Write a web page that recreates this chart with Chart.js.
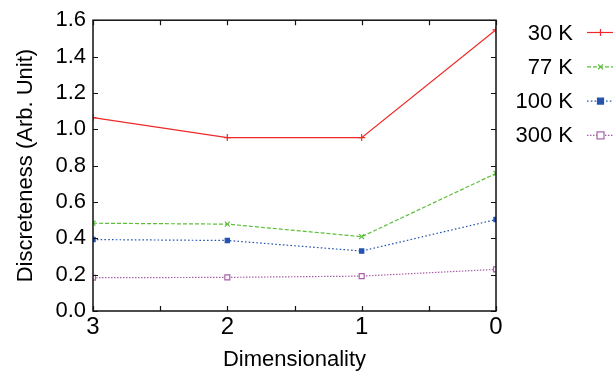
<!DOCTYPE html>
<html>
<head>
<meta charset="utf-8">
<script src="https://cdn.jsdelivr.net/npm/chart.js@4/dist/chart.umd.min.js"></script>
<style>
html,body{margin:0;padding:0;background:#fff;}
canvas{display:block;}
</style>
</head>
<body>
<canvas id="c" width="613" height="374"></canvas>
<script>
// ---- data ----
const dimensionality = [3, 2, 1, 0];
const seriesLabels = ['30 K', '77 K', '100 K', '300 K'];
const k30  = [1.064, 0.954, 0.954, 1.547];
const k77  = [0.483, 0.478, 0.409, 0.757];
const k100 = [0.393, 0.388, 0.330, 0.503];
const k300 = [0.183, 0.185, 0.192, 0.229];
const yTickLabels = ['0.0','0.2','0.4','0.6','0.8','1.0','1.2','1.4','1.6'];
const xTickLabels = ['0','1','2','3'];

const FONT = "'Liberation Sans', Arial, Helvetica, sans-serif";

function pts(vals){ return dimensionality.map((d,i)=>({x:d, y:vals[i]})); }

const styles = [
  {color:'#f02828', dash:[], point:'cross', radius:3.5, bg:'#f02828'},
  {color:'#5cbf3a', dash:[4,2], point:'crossRot', radius:3.5, bg:'#5cbf3a'},
  {color:'#2454b0', dash:[1.6,2.2], point:'rect', radius:3, bg:'#2454b0'},
  {color:'#a860a8', dash:[1.5,1.5], point:'rect', radius:3.5, bg:'#ffffff'}
];
const seriesValues = [k30, k77, k100, k300];

const datasets = seriesValues.map((v,i)=>({
  label: seriesLabels[i],
  data: pts(v),
  borderColor: styles[i].color,
  backgroundColor: styles[i].bg,
  borderWidth: 1.2,
  borderDash: styles[i].dash,
  pointStyle: styles[i].point,
  pointRadius: styles[i].radius,
  pointBorderColor: styles[i].color,
  pointBackgroundColor: styles[i].bg,
  pointBorderWidth: 1.2,
  tension: 0,
  fill: false
}));

const framePlugin = {
  id: 'frame',
  afterDatasetsDraw(chart){
    const ctx = chart.ctx, a = chart.chartArea;
    const xs = chart.scales.x, ys = chart.scales.y;
    ctx.save();
    ctx.strokeStyle = '#111';
    ctx.lineWidth = 1.5;
    ctx.strokeRect(a.left, a.top, a.right - a.left, a.bottom - a.top);
    ctx.lineWidth = 1.2;
    ctx.beginPath();
    for (let v = 0; v <= 3.0001; v += 0.5) {
      const px = Math.round(xs.getPixelForValue(v)) + 0.5;
      const len = 5;
      ctx.moveTo(px, a.bottom); ctx.lineTo(px, a.bottom - len);
      ctx.moveTo(px, a.top); ctx.lineTo(px, a.top + len);
    }
    for (let v = 0; v <= 1.6001; v += 0.2) {
      const py = Math.round(ys.getPixelForValue(v)) + 0.5;
      ctx.moveTo(a.left, py); ctx.lineTo(a.left + 5, py);
      ctx.moveTo(a.right, py); ctx.lineTo(a.right - 5, py);
    }
    ctx.stroke();
    ctx.restore();
  },
  afterDraw(chart){
    const ctx = chart.ctx;
    ctx.save();
    const textRight = 573, lineL = 587, lineR = 615, markX = 600.5;
    chart.data.datasets.forEach((ds, i) => {
      const y = 32.5 + i * 34.3;
      ctx.fillStyle = '#000';
      ctx.font = '22px ' + FONT;
      ctx.textAlign = 'right';
      ctx.textBaseline = 'middle';
      ctx.fillText(ds.label, textRight, y + 1);
      ctx.strokeStyle = ds.borderColor;
      ctx.lineWidth = 1.2;
      ctx.setLineDash(ds.borderDash);
      ctx.beginPath();
      ctx.moveTo(lineL, y); ctx.lineTo(lineR, y);
      ctx.stroke();
      ctx.setLineDash([]);
      ctx.fillStyle = ds.pointBackgroundColor;
      ctx.strokeStyle = ds.pointBorderColor;
      const r = ds.pointRadius;
      if (ds.pointStyle === 'rect') {
        ctx.fillRect(markX - r, y - r, 2*r, 2*r);
        ctx.strokeRect(markX - r, y - r, 2*r, 2*r);
      } else {
        Chart.helpers.drawPoint(ctx, {
          pointStyle: ds.pointStyle, radius: r, rotation: 0, borderWidth: 1.2
        }, markX, y);
      }
    });
    ctx.restore();
  }
};

new Chart(document.getElementById('c'), {
  type: 'line',
  data: { datasets },
  options: {
    responsive: false,
    animation: false,
    layout: { padding: { top: 16, right: 117, left: 0, bottom: 0 } },
    plugins: { legend: { display: false }, tooltip: { enabled: false } },
    scales: {
      x: {
        type: 'linear',
        reverse: true,
        min: 0, max: 3,
        grid: { display: false, drawTicks: false },
        border: { display: false },
        ticks: {
          stepSize: 1,
          color: '#000',
          padding: 2,
          font: { family: FONT, size: 24 },
          callback: (v) => xTickLabels[v] !== undefined ? xTickLabels[v] : ''
        },
        title: {
          display: true, text: 'Dimensionality', color: '#000',
          font: { family: FONT, size: 22 },
          padding: { top: 0, bottom: 1 }
        },
        afterFit(scale){ scale.height = 63; }
      },
      y: {
        min: 0, max: 1.6,
        grid: { display: false, drawTicks: false },
        border: { display: false },
        ticks: {
          stepSize: 0.2,
          color: '#000',
          padding: 7,
          font: { family: FONT, size: 22 },
          callback: (v) => yTickLabels[Math.round(v / 0.2)]
        },
        title: {
          display: true, text: 'Discreteness (Arb. Unit)', color: '#000',
          font: { family: FONT, size: 22 },
          padding: { top: 12.5, bottom: 0 }
        },
        afterFit(scale){ scale.width = 93; }
      }
    }
  },
  plugins: [framePlugin]
});
</script>
</body>
</html>
